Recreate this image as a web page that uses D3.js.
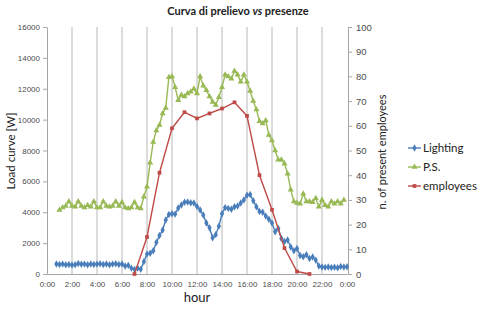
<!DOCTYPE html>
<html>
<head>
<meta charset="utf-8">
<script src="https://cdn.jsdelivr.net/npm/d3@7"></script>
<style>
  body { margin: 0; background: #fff; }
  svg { font-family: Lato, "Noto Sans", sans-serif; }
</style>
</head>
<body>
<svg id="chart" width="480" height="309"></svg>
<script>
// quarter-hour samples
var lightingStart = 0.75;
var lighting = [650, 620, 640, 600, 620, 580, 600, 680, 630, 640, 600, 650, 620, 640, 660, 620,
  650, 600, 640, 660, 620, 650, 520, 560, 380, 300, 380, 300, 800, 1300, 1350, 1500,
  2050, 2500, 2850, 3500, 3850, 3900, 3880, 4280, 4470, 4650, 4660, 4620, 4600, 4380, 4150, 3820,
  3300, 3000, 2350, 2550, 3100, 3900, 4300, 4250, 4200, 4350, 4400, 4600, 4800, 5100, 5150,
  4750, 4360, 4050, 4000, 3750, 3550, 3300, 2740, 2950, 2300, 2100, 2200, 1750, 1500, 1650, 1200,
  1120, 1250, 1000, 1100, 900, 520, 450, 430, 450, 420, 440, 400, 480, 450, 470];

var psStart = 1.0;
var ps = [4150, 4300, 4400, 4700, 4400, 4350, 4700, 4400, 4300, 4450, 4350, 4700, 4300, 4300, 4700, 4400,
  4350, 4400, 4700, 4400, 4650, 4300, 4250, 4300, 4650, 4300, 4250, 5000, 5650, 7200, 8550, 9300,
  9650, 10400, 10750, 12750, 12800, 12100, 11250, 11600, 11500, 11700, 11800, 12000, 11700, 12800, 12200, 11900,
  11500, 11150, 10950, 11450, 12100, 12900, 12800, 12650, 13150, 12900, 12450, 12900, 12450, 11850, 11200, 10650,
  9900, 9750, 9950, 9000, 8650, 8000, 7400, 7400, 7150, 6500, 5450, 4700, 4600, 4550, 5200, 4700,
  4700, 4650, 4900, 4350, 4800, 4450, 4350, 4700, 4550, 4700, 4550, 4800];

var employeeHours = [7, 8, 9, 10, 11, 12, 13, 14, 15, 16, 17, 18, 19, 20, 21];
var employees = [0, 15, 41, 59, 65.5, 63, 65, 67, 69.5, 64, 40, 26, 10.5, 1, 0];

var hourTicks = [0, 2, 4, 6, 8, 10, 12, 14, 16, 18, 20, 22, 24];
var loadTicks = [0, 2000, 4000, 6000, 8000, 10000, 12000, 14000, 16000];
var empTicks = [0, 10, 20, 30, 40, 50, 60, 70, 80, 90, 100];

var svg = d3.select("#chart");
var plotLeft = 47, plotRight = 347, plotTop = 27, plotBottom = 274;

var x = d3.scaleLinear().domain([0, 24]).range([plotLeft, plotRight]);
var yLoad = d3.scaleLinear().domain([0, 16000]).range([plotBottom, plotTop]);
var yEmp = d3.scaleLinear().domain([0, 100]).range([plotBottom, plotTop]);

function quarterSeries(start, values) {
  return values.map((v, i) => ({ t: start + i * 0.25, v: v }));
}

var series = [
  { name: "Lighting", color: "#4a7ebb", symbol: d3.symbolDiamond, size: 16,
    y: yLoad, data: quarterSeries(lightingStart, lighting) },
  { name: "P.S.", color: "#98b954", symbol: d3.symbolTriangle, size: 16,
    y: yLoad, data: quarterSeries(psStart, ps) },
  { name: "employees", color: "#be4b48", symbol: d3.symbolSquare, size: 14,
    y: yEmp, data: employeeHours.map((h, i) => ({ t: h, v: employees[i] })) }
];

// vertical gridlines
svg.append("g").selectAll("line")
  .data(hourTicks.filter(h => h > 0 && h < 24))
  .join("line")
  .attr("x1", d => x(d)).attr("x2", d => x(d))
  .attr("y1", plotTop).attr("y2", plotBottom)
  .attr("stroke", "#b8b8b8").attr("stroke-width", 1);

function styleAxis(g) {
  g.selectAll(".domain").attr("stroke", "#a6a6a6");
  g.selectAll(".tick line").attr("stroke", "#a6a6a6");
  g.selectAll(".tick text").attr("fill", "#4d4d4d");
}

svg.append("g")
  .attr("transform", `translate(${plotLeft},0)`)
  .call(d3.axisLeft(yLoad).tickValues(loadTicks).tickFormat(d3.format("d"))
    .tickSize(4).tickSizeOuter(0).tickPadding(3))
  .call(styleAxis)
  .selectAll(".tick text").style("font-size", "8px");

svg.append("g")
  .attr("transform", `translate(${plotRight + 1},0)`)
  .call(d3.axisRight(yEmp).tickValues(empTicks).tickSize(4).tickSizeOuter(0).tickPadding(4))
  .call(styleAxis)
  .selectAll(".tick text").style("font-size", "9.5px");

svg.append("g")
  .attr("transform", `translate(0,${plotBottom})`)
  .call(d3.axisBottom(x).tickValues(hourTicks).tickSize(0).tickPadding(7)
    .tickFormat(d => (d % 24) + ":00"))
  .call(styleAxis)
  .selectAll(".tick text").style("font-size", "8px");

// series
series.forEach(s => {
  var line = d3.line().x(d => x(d.t)).y(d => s.y(d.v));
  var g = svg.append("g");
  g.append("path").datum(s.data)
    .attr("d", line).attr("fill", "none")
    .attr("stroke", s.color).attr("stroke-width", 1.4);
  g.selectAll("path.pt").data(s.data).join("path")
    .attr("class", "pt")
    .attr("transform", d => `translate(${x(d.t)},${s.y(d.v)})`)
    .attr("d", d3.symbol().type(s.symbol).size(s.size))
    .attr("fill", s.color);
});

// titles
var title = svg.append("text")
  .attr("x", 238).attr("y", 15)
  .attr("text-anchor", "middle")
  .style("font-size", "11px").style("font-weight", "bold").attr("fill", "#222");
title.append("tspan").text("Curva di prelievo ");
title.append("tspan").style("font-style", "italic").text("vs");
title.append("tspan").text(" presenze");

svg.append("text")
  .attr("transform", "translate(15,151) rotate(-90)")
  .attr("text-anchor", "middle")
  .style("font-size", "11.5px").attr("fill", "#222")
  .text("Load curve [W]");

svg.append("text")
  .attr("transform", "translate(386,152) rotate(-90)")
  .attr("text-anchor", "middle")
  .style("font-size", "11px").attr("fill", "#222")
  .text("n. of present employees");

svg.append("text")
  .attr("x", 197).attr("y", 302)
  .attr("text-anchor", "middle")
  .style("font-size", "13px").attr("fill", "#222")
  .text("hour");

// legend
var legend = svg.append("g").selectAll("g")
  .data(series).join("g")
  .attr("transform", (d, i) => `translate(408,${148 + i * 19})`);
legend.append("line")
  .attr("x1", 0).attr("x2", 13)
  .attr("stroke", d => d.color).attr("stroke-width", 1.4);
legend.append("path")
  .attr("transform", "translate(6.5,0)")
  .attr("d", d => d3.symbol().type(d.symbol).size(d.size)())
  .attr("fill", d => d.color);
legend.append("text")
  .attr("x", 15).attr("dy", "0.35em")
  .style("font-size", "11.5px").attr("fill", "#222")
  .text(d => d.name);
</script>
</body>
</html>
